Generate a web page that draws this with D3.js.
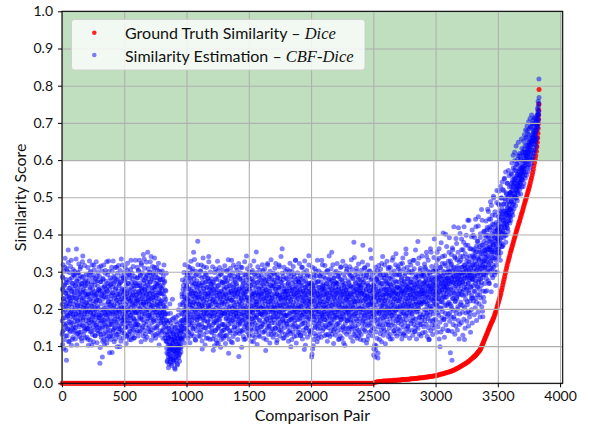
<!DOCTYPE html>
<html>
<head>
<meta charset="utf-8">
<script src="https://cdn.jsdelivr.net/npm/d3@7"></script>
<style>
  html, body { margin: 0; padding: 0; background: #ffffff; }
  svg { display: block; }
</style>
</head>
<body>
<svg id="chart" width="589" height="426"></svg>
<script>
// ---- axis ticks ----
const xTicks = [0, 500, 1000, 1500, 2000, 2500, 3000, 3500, 4000];
const yTicks = [0.0, 0.1, 0.2, 0.3, 0.4, 0.5, 0.6, 0.7, 0.8, 0.9, 1.0];

// ---- shaded high-similarity band ----
const highBand = [0.6, 1.0];

// ---- ground truth Dice similarity, one value every 10 pairs (0 .. 3290) ----
const gtScores = [
  0,0,0,0,0,0,0,0,0,0,0,0,0,0,0,0,0,0,0,0,0,0,0,0,0,0,0,0,0,0,0,0,0,0,0,0,0,0,0,0,0,0,0,0,0,0,0,0,0,0,
  0,0,0,0,0,0,0,0,0,0,0,0,0,0,0,0,0,0,0,0,0,0,0,0,0,0,0,0,0,0,0,0,0,0,0,0,0,0,0,0,0,0,0,0,0,0,0,0,0,0,
  0,0,0,0,0,0,0,0,0,0,0,0,0,0,0,0,0,0,0,0,0,0,0,0,0,0,0,0,0,0,0,0,0,0,0,0,0,0,0,0,0,0,0,0,0,0,0,0,0,0,
  0,0,0,0,0,0,0,0,0,0,0,0,0,0,0,0,0,0,0,0,0,0,0,0,0,0,0,0,0,0,0,0,0,0,0,0,0,0,0,0,0,0,0,0,0,0,0,0,0,0,
  0,0,0,0,0,0,0,0,0,0,0,0,0,0,0,0,0,0,0,0,0,0,0,0,0,0,0,0,0,0,0,0,0,0,0,0,0,0,0,0,0,0,0,0,0,0,0,0,0,0,
  0.000,0.002,0.003,0.004,0.004,0.005,0.005,0.005,0.006,0.006,
  0.006,0.006,0.007,0.007,0.007,0.007,0.008,0.008,0.008,0.008,
  0.009,0.009,0.009,0.010,0.010,0.010,0.010,0.011,0.011,0.011,
  0.012,0.012,0.012,0.013,0.013,0.013,0.014,0.014,0.015,0.015,
  0.015,0.016,0.016,0.017,0.017,0.018,0.018,0.019,0.019,0.020,
  0.020,0.021,0.022,0.023,0.024,0.025,0.026,0.027,0.028,0.029,
  0.030,0.031,0.032,0.033,0.035,0.036,0.038,0.040,0.041,0.043,
  0.045,0.047,0.049,0.051,0.053,0.055,0.058,0.060,0.063,0.066
];
// steep part, one value every 5 pairs (3300 .. 3795)
const gtSteepScores = [
  0.069,0.0705,0.072,0.0735,0.075,0.077,0.079,0.081,0.083,0.085,
  0.087,0.089,0.092,0.095,0.099,0.103,0.107,0.111,0.115,0.119,
  0.123,0.127,0.131,0.135,0.140,0.144,0.148,0.152,0.156,0.160,
  0.164,0.167,0.171,0.175,0.179,0.184,0.189,0.194,0.200,0.206,
  0.212,0.218,0.224,0.230,0.236,0.243,0.250,0.257,0.265,0.272,
  0.280,0.287,0.295,0.302,0.310,0.317,0.324,0.330,0.337,0.343,
  0.350,0.356,0.362,0.368,0.374,0.380,0.386,0.392,0.398,0.404,
  0.410,0.415,0.421,0.426,0.432,0.437,0.443,0.449,0.455,0.460,
  0.466,0.472,0.478,0.484,0.490,0.495,0.501,0.507,0.513,0.519,
  0.525,0.531,0.538,0.545,0.552,0.559,0.567,0.575,0.584,0.593
];
// last pairs, listed individually
const gtTailPairs  = [3800, 3805, 3810, 3814, 3817, 3820, 3822, 3824, 3826, 3827, 3828, 3829, 3830, 3831];
const gtTailScores = [0.602, 0.612, 0.624, 0.636, 0.648, 0.660, 0.672, 0.685, 0.698, 0.710, 0.722, 0.735, 0.750, 0.790];

// ---- CBF-Dice estimates (in thousandths), one row per 100 pairs ----
// even-numbered pairs: 100k, 100k+2, ... 100k+98
const estEvenRows = [
  "212 168 254 139 283 191 227 094 203 262 158 219 312 176 243 128 271 208 062 187 249 301 147 224 181 358 198 236 113 231 165 279 214 257 142 189 221 331 163 248 205 118 268 184 229 292 151 213 239 196",
  "243 177 288 202 149 263 218 186 361 229 132 274 207 171 252 297 193 224 138 281 199 241 158 308 183 232 259 121 214 188 268 221 327 169 244 203 154 287 226 178 211 262 141 249 194 276 217 168 238 204",
  "186 233 147 272 209 118 241 176 292 198 163 217 253 139 301 192 228 171 208 264 103 243 197 182 284 151 222 187 318 213 168 247 128 234 201 273 179 239 157 224 193 287 208 142 261 203 231 169 252 184",
  "176 221 054 248 162 197 273 131 214 188 239 152 071 226 179 282 168 233 117 202 258 191 161 244 303 139 211 184 253 197 108 231 172 268 193 219 149 329 204 241 158 082 213 179 264 128 227 193 277 167",
  "218 083 191 259 138 244 202 169 288 211 148 229 182 272 119 253 197 161 223 312 188 239 131 214 281 172 232 198 147 262 193 218 098 241 177 273 209 158 334 203 228 142 251 186 219 171 284 201 238 179",
  "203 248 167 231 279 152 212 187 263 219 128 242 178 303 198 163 268 227 191 209 252 139 291 221 182 238 204 331 169 232 259 193 148 217 282 211 243 176 122 254 198 229 271 168 213 189 236 158 221 262",
  "238 191 283 219 158 262 208 304 247 178 233 269 141 242 199 291 218 173 257 323 212 249 188 228 279 152 241 217 268 202 334 181 253 227 118 261 209 289 238 193 219 272 167 248 352 231 198 281 222 183",
  "259 212 241 298 177 228 273 203 341 219 162 248 282 189 231 208 293 239 171 258 223 312 197 252 131 243 268 191 229 284 211 153 262 218 303 182 239 201 271 227 103 251 213 279 188 242 168 221 257 198",
  "221 172 253 188 279 142 209 241 161 198 271 178 232 121 219 187 152 248 203 169 113 082 131 061 187 149 102 071 124 052 093 138 079 213 058 104 128 067 162 091 118 048 101 172 139 108 069 088 133 057",
  "078 122 041 098 151 069 113 087 178 062 128 083 104 049 142 091 119 073 198 101 081 132 059 109 163 093 121 138 097 154 188 141 232 169 118 211 253 158 198 129 241 179 108 221 272 148 192 228 171 209",
  "198 261 168 229 291 139 221 188 273 238 158 211 311 179 252 219 128 283 203 241 169 228 302 191 262 209 148 243 217 281 177 249 333 198 231 118 268 212 239 187 293 221 171 258 199 382 229 178 247 213",
  "231 178 269 203 138 252 218 301 188 241 159 209 283 092 228 199 262 171 222 313 187 248 211 149 271 232 181 239 198 292 121 224 258 189 233 168 281 207 243 341 202 157 253 219 182 268 209 227 191 259",
  "187 241 148 213 273 119 222 179 251 198 163 232 101 262 188 219 142 281 203 168 243 211 108 252 177 229 302 151 209 193 263 128 218 242 171 201 293 097 231 182 248 139 212 188 271 158 223 198 121 238",
  "213 158 252 187 283 219 128 241 201 176 272 229 148 212 304 189 253 168 221 081 262 198 239 141 228 179 291 208 161 248 223 331 192 243 109 202 268 231 171 218 259 183 209 152 244 279 197 233 188 251",
  "219 181 262 198 148 243 291 212 168 231 072 253 187 219 282 159 238 201 312 177 229 213 139 261 221 189 273 242 171 198 252 118 231 209 293 182 241 158 224 263 197 342 188 229 151 248 213 179 268 221",
  "201 252 178 229 281 159 219 193 263 208 142 241 298 199 172 231 272 188 223 112 249 211 181 293 238 161 228 203 259 219 353 178 242 212 148 271 198 233 191 254 129 221 283 209 168 243 202 261 187 232",
  "241 188 272 219 161 253 208 303 179 228 199 262 138 241 221 279 191 213 088 251 229 171 268 202 243 322 182 219 258 209 152 238 193 282 231 198 248 169 221 291 212 131 262 238 178 229 203 271 219 189",
  "208 262 171 241 293 198 232 148 253 219 188 272 109 241 211 283 179 229 201 258 161 252 218 313 192 238 209 141 272 228 181 223 261 202 362 239 169 232 212 279 188 248 122 218 263 199 241 181 229 213",
  "229 182 251 208 281 158 238 201 268 219 139 262 188 231 302 212 171 249 221 098 241 203 279 178 232 258 209 152 253 218 191 293 239 198 169 231 272 211 331 181 243 222 128 259 201 248 193 228 282 209",
  "203 238 172 271 219 188 252 129 231 208 279 182 241 198 263 312 221 161 248 212 191 229 273 091 242 199 218 179 258 232 148 251 209 288 192 239 221 168 268 201 228 343 213 178 249 219 138 262 198 241",
  "219 271 188 242 078 211 263 181 229 101 252 198 283 171 221 238 149 262 209 191 301 232 179 248 218 158 272 201 239 121 212 258 193 231 289 178 249 222 168 241 203 273 212 331 188 228 261 182 219 253",
  "238 192 261 209 171 248 219 282 201 232 152 268 213 241 178 303 222 189 259 131 229 208 251 181 279 218 243 161 199 272 231 188 253 352 209 173 241 219 262 198 141 228 283 191 249 212 178 239 221 271",
  "209 251 182 231 268 198 242 161 221 289 193 258 211 119 243 219 281 178 229 203 252 313 171 239 212 188 272 221 149 248 201 232 262 179 219 241 102 268 208 251 191 229 302 199 243 168 221 259 209 232",
  "232 198 271 219 181 252 208 291 239 171 262 218 332 191 241 209 152 283 228 201 259 221 379 182 248 212 239 139 271 219 188 252 229 301 199 243 168 261 221 279 208 128 249 231 191 268 219 242 201 262",
  "221 259 191 242 279 208 231 168 371 249 198 222 272 181 239 309 211 158 262 228 189 251 219 291 201 238 118 268 209 232 179 261 221 302 193 249 211 241 359 198 229 171 258 219 281 188 243 212 252 231",
  "209 252 092 231 268 179 241 071 202 259 219 101 281 188 243 211 303 172 229 081 248 221 271 191 239 198 262 159 231 292 209 251 181 222 322 201 239 268 188 229 213 148 259 221 283 198 241 179 252 212",
  "229 272 198 251 178 241 289 209 262 221 158 243 312 199 231 268 188 252 119 219 281 238 209 259 182 231 331 201 249 219 271 191 242 141 262 228 208 293 241 198 253 348 219 181 272 231 258 201 239 222",
  "241 198 272 221 291 178 252 228 302 209 261 168 243 279 218 249 191 323 231 258 209 131 272 239 201 249 289 221 181 262 228 361 209 251 238 188 281 219 259 152 243 268 212 231 298 199 252 221 271 238",
  "252 209 281 229 188 262 301 218 241 169 271 228 249 198 331 238 212 283 139 259 231 248 219 292 191 242 268 209 261 381 229 201 251 279 218 239 178 272 231 309 212 258 241 158 249 289 221 268 232 241",
  "259 218 291 241 198 272 251 312 229 179 262 281 219 248 341 209 269 238 188 258 302 231 249 118 279 221 261 239 292 208 271 252 352 199 258 229 283 241 168 272 248 301 221 262 239 388 228 279 251 212",
  "271 228 302 249 211 283 258 331 239 189 292 261 228 272 362 248 219 281 098 259 311 238 269 201 289 251 279 229 341 262 218 301 271 242 171 279 259 322 231 268 252 401 241 288 259 209 282 248 299 268",
  "252 308 279 218 352 268 301 189 259 329 241 291 272 208 321 281 062 249 302 359 228 271 288 178 312 259 239 341 279 221 298 268 389 248 291 231 332 272 199 281 309 258 418 241 288 269 158 301 249 279",
  "298 262 331 279 238 359 288 312 209 271 341 298 251 379 282 319 118 291 268 348 309 239 302 398 258 329 281 219 312 289 371 268 321 249 438 301 279 342 188 291 309 258 362 298 229 331 281 412 289 318",
  "319 279 358 302 248 341 309 392 288 351 268 329 421 301 218 369 321 289 339 258 381 312 448 279 331 358 298 239 352 319 402 291 339 308 271 372 328 438 302 361 179 318 349 292 381 329 409 311 358 339",
  "348 309 392 338 281 368 329 419 358 302 398 351 462 318 381 269 362 412 339 388 309 441 368 329 478 358 291 402 349 428 379 318 372 498 352 409 338 391 299 381 452 362 418 331 401 368 518 349 388 412",
  "381 419 352 448 401 362 479 412 388 441 331 458 421 378 498 428 402 469 368 452 521 409 438 391 481 429 549 418 462 398 492 441 379 512 458 428 482 419 538 452 471 408 501 459 438 558 481 449 509 468",
  "468 512 438 529 491 458 561 502 479 541 452 518 579 488 532 469 551 509 598 501 539 478 571 519 552 498 589 528 491 561 518 612 539 508 571 529 552 618 521 559 538 581 509 601 548 569 528 631 558 579",
  "548 591 529 612 568 538 629 579 559 621 551 601 661 568 612 559 639 588 679 581 621 569 648 598 631 589 668 609 578 642 601 688 619 589 652 608 628 698 601 641 619 661 608 679 628 652 618 712 641 659",
  "628 672 649 701 638 681 719 659 698 738 689 721 758 709 731 818"
];
// odd-numbered pairs: 100k+1, 100k+3, ... 100k+99
const estOddRows = [
  "132 287 104 251 319 176 228 143 301 117 265 198 336 154 242 089 279 213 161 308 127 234 183 271 146 325 209 112 256 173 298 138 221 187 314 159 247 102 283 194 231 148 269 123 306 178 254 137 292 166",
  "301 142 263 119 228 187 334 158 276 103 249 211 168 297 134 238 182 321 152 264 126 209 289 171 313 138 246 193 268 114 285 157 229 342 176 251 131 203 274 148 317 187 239 122 262 198 145 293 216 159",
  "124 268 193 311 147 239 102 284 171 226 329 153 258 116 297 188 241 139 272 164 318 207 131 253 178 291 112 236 162 305 143 264 197 128 281 219 156 327 184 243 109 276 151 223 298 134 251 176 312 149",
  "287 139 248 096 273 182 315 124 236 167 302 148 257 113 279 198 133 318 171 244 104 263 157 296 186 231 128 274 152 327 119 248 183 292 137 261 169 219 301 126 252 188 141 283 208 118 267 159 236 312",
  "158 301 127 242 186 329 143 268 207 112 284 173 236 149 311 192 257 131 278 164 223 098 296 179 248 138 317 201 153 267 124 239 188 303 146 271 113 226 289 169 254 136 318 197 161 283 122 245 176 298",
  "276 134 253 188 311 149 232 107 289 168 241 126 323 197 152 268 131 294 176 227 118 283 161 249 139 306 182 221 117 271 154 296 128 237 189 314 143 262 173 208 122 287 158 246 331 137 269 191 153 226",
  "167 312 141 283 223 127 302 188 246 156 331 201 262 138 289 176 227 112 318 193 254 149 297 171 238 128 346 213 163 277 142 309 186 251 132 284 218 158 326 197 241 124 292 173 263 147 308 182 229 139",
  "298 152 271 186 327 138 243 209 116 288 174 256 143 314 197 231 128 302 166 278 149 337 211 183 259 121 293 169 236 148 311 192 267 134 284 207 158 323 176 244 129 301 188 262 141 279 214 163 297 182",
  "241 138 302 176 263 121 287 193 149 318 208 162 274 131 251 187 226 113 296 168 094 137 058 112 163 079 121 042 148 087 103 169 066 124 091 188 072 141 053 116 097 152 081 226 109 063 134 089 176 118",
  "061 124 093 147 038 112 081 166 097 131 073 158 104 052 139 088 121 183 069 114 096 149 078 127 211 105 142 084 168 119 153 241 122 278 186 217 139 263 171 298 148 231 196 319 163 252 128 284 207 176",
  "263 148 297 183 226 121 314 192 254 137 283 168 241 109 296 213 157 328 178 249 133 271 201 162 308 146 234 187 352 127 268 219 153 289 174 243 116 301 198 259 141 276 163 232 187 319 152 264 128 211",
  "157 289 174 241 126 302 198 263 143 318 182 229 114 271 208 152 337 176 254 131 286 193 168 243 103 296 217 149 273 186 311 138 258 197 164 283 122 241 209 327 153 274 181 236 118 299 172 248 139 266",
  "281 136 254 197 313 158 226 089 271 182 243 128 298 167 218 141 307 193 252 116 279 163 236 184 328 147 263 107 288 172 241 154 311 196 228 131 274 182 246 118 293 159 217 271 142 304 188 233 127 259",
  "143 271 188 316 152 239 107 284 173 258 129 301 196 227 148 276 183 332 158 243 119 289 204 171 263 136 309 187 247 112 281 168 223 142 297 193 256 126 318 177 238 151 287 206 164 273 134 249 188 312",
  "268 137 303 179 241 118 286 196 159 322 173 252 134 279 208 163 297 141 248 187 226 097 311 168 257 143 283 201 126 269 184 238 153 327 172 246 119 291 203 162 278 139 254 193 308 148 231 176 286 131",
  "164 298 127 253 189 317 146 262 208 113 281 174 236 158 303 192 241 129 274 167 329 198 148 263 123 286 211 176 244 138 297 183 219 104 271 156 313 199 238 142 289 171 253 126 304 187 228 151 278 203",
  "292 153 241 184 319 137 266 201 158 283 121 248 193 307 166 229 142 276 188 251 117 294 174 236 149 318 203 162 272 131 286 219 154 247 108 301 176 263 141 332 192 227 163 281 146 258 198 124 296 179",
  "136 278 204 162 309 148 253 189 322 131 267 178 241 116 293 207 154 284 172 236 143 318 193 258 127 281 164 229 188 341 152 271 209 138 296 173 246 121 287 198 163 312 149 254 183 226 132 301 168 247",
  "283 161 247 129 306 182 238 152 271 113 294 203 168 257 141 323 189 226 134 288 172 249 118 301 193 157 269 138 314 176 241 203 126 286 161 253 192 331 147 262 108 279 184 233 153 297 171 244 137 272",
  "151 273 198 322 137 251 176 289 128 263 207 158 311 183 232 119 284 169 246 143 298 187 221 134 329 162 257 102 276 194 238 149 303 178 263 124 291 207 156 247 189 318 141 268 173 226 132 287 196 253",
  "268 143 071 238 186 312 092 257 163 221 118 293 179 246 134 308 198 153 271 127 289 206 168 243 112 331 187 229 146 274 161 302 193 132 258 217 149 287 171 236 124 296 182 251 158 319 141 264 203 178",
  "147 286 192 253 128 317 171 239 156 298 204 131 269 186 243 113 302 167 228 149 281 194 342 158 261 126 293 177 238 141 308 209 163 276 132 251 188 319 152 267 107 284 171 232 146 297 183 258 129 271",
  "301 158 243 176 322 139 268 193 151 287 118 254 207 163 296 181 232 127 311 172 246 143 278 198 121 264 186 328 153 239 109 293 174 257 138 283 203 161 316 147 251 188 226 132 307 169 241 192 148 276",
  "172 296 138 263 184 313 151 242 197 124 288 163 231 146 306 179 258 113 281 203 166 247 132 338 186 219 154 292 127 268 196 173 309 148 253 121 287 181 236 159 321 142 264 201 137 279 172 248 118 293",
  "257 131 304 182 243 161 326 148 271 199 116 289 173 238 143 311 184 226 139 283 167 252 108 297 191 234 154 318 176 263 127 286 212 158 249 137 302 187 228 162 278 141 336 179 217 151 293 128 264 196",
  "183 076 262 147 298 103 231 169 312 089 253 138 279 193 121 286 161 238 068 274 152 317 186 224 118 296 171 249 133 307 196 143 268 112 283 209 157 341 176 237 129 291 168 252 141 318 189 223 106 276",
  "292 158 241 186 328 137 269 203 164 307 126 253 191 282 148 236 173 311 131 264 198 156 297 183 244 119 286 211 162 338 174 249 141 302 188 227 153 276 134 319 196 243 168 291 127 258 207 171 313 146",
  "163 308 178 257 142 293 206 231 132 321 187 246 158 284 119 268 201 172 337 151 242 189 308 136 274 213 163 296 128 251 184 348 171 263 146 312 198 227 154 281 207 139 302 181 256 121 327 193 238 168",
  "318 161 272 208 143 296 187 249 129 331 176 257 201 158 308 139 264 227 172 358 151 286 213 119 273 194 241 163 322 148 289 201 176 337 132 261 218 158 303 187 246 127 293 214 169 342 178 251 136 287",
  "184 297 152 268 219 321 168 243 137 308 197 276 159 352 188 231 126 289 213 174 331 149 262 201 118 298 183 246 168 362 141 279 226 193 314 157 254 208 131 301 187 266 148 338 217 172 286 239 159 307",
  "263 171 318 198 241 137 352 208 279 152 301 227 183 336 119 287 246 164 311 203 268 138 378 219 251 176 322 193 289 146 404 231 172 297 258 124 343 209 276 188 317 157 264 231 368 179 298 142 283 214",
  "186 328 141 274 238 391 167 299 213 082 318 252 178 346 201 283 139 364 228 271 158 309 196 421 243 173 288 132 337 219 262 154 301 188 376 227 279 143 314 206 352 169 291 238 119 327 186 268 403 211",
  "341 218 296 163 388 247 312 191 273 129 359 236 298 172 421 258 203 317 148 283 226 371 189 304 252 167 338 211 289 438 193 269 154 326 243 297 178 362 221 284 137 311 259 198 394 236 278 162 343 229",
  "263 398 221 338 289 184 362 247 319 203 441 276 229 353 169 307 261 382 238 296 191 423 272 334 214 368 252 309 178 392 281 229 348 263 467 206 317 284 194 372 248 329 231 408 293 219 356 268 313 247",
  "398 291 436 327 378 249 412 362 298 468 341 276 393 319 442 268 367 421 302 359 488 329 381 246 418 353 307 452 338 284 396 372 503 312 427 358 291 391 461 336 408 263 374 432 318 486 351 299 413 387",
  "428 361 482 399 342 517 438 376 463 408 529 351 447 392 498 421 368 541 456 409 481 372 518 438 463 402 551 447 419 496 431 568 452 398 509 462 427 538 471 416 502 458 572 437 489 451 528 468 431 513",
  "512 448 563 489 537 471 592 518 462 548 501 613 528 481 572 539 503 621 548 512 581 529 498 638 557 521 589 543 512 602 561 532 648 571 529 593 558 541 612 576 538 603 562 551 657 581 548 619 573 562",
  "583 622 569 651 598 578 668 612 593 639 586 681 621 602 659 611 597 692 628 609 671 633 618 703 641 622 684 648 631 712 658 637 689 652 643 721 661 649 697 668 652 708 673 661 698 679 668 714 684 672",
  "651 688 662 703 678 694 712 689 708 723 702 731 744 721 752 768"
];

// ---- text ----
const xAxisTitle = "Comparison Pair";
const yAxisTitle = "Similarity Score";
const legendItems = [
  { lead: "Ground Truth Similarity \u2013 ", measure: "Dice", color: "#ff0000", opacity: 0.85 },
  { lead: "Similarity Estimation \u2013 ", measure: "CBF-Dice", color: "#0000ff", opacity: 0.5 }
];

// ---- layout ----
const frame = { left: 62, right: 562.7, top: 11.3, bottom: 383.3 };
const sansFont = "Lato, 'DejaVu Sans', sans-serif";
const mathFont = "'Liberation Serif', 'DejaVu Serif', serif";

const svg = d3.select("#chart");

const x = d3.scaleLinear().domain([0, 4021]).range([frame.left, frame.right]);
const y = d3.scaleLinear().domain([0, 1]).range([frame.bottom, frame.top]);

// shaded band
svg.append("rect")
  .attr("x", frame.left)
  .attr("y", y(highBand[1]))
  .attr("width", frame.right - frame.left)
  .attr("height", y(highBand[0]) - y(highBand[1]))
  .attr("fill", "#008000")
  .attr("fill-opacity", 0.25);

// ground truth points
const gtPoints = gtScores.map((s, i) => ({ pair: i * 10, score: s }))
  .concat(gtSteepScores.map((s, i) => ({ pair: 3300 + i * 5, score: s })))
  .concat(gtTailPairs.map((p, i) => ({ pair: p, score: gtTailScores[i] })));

svg.append("g")
  .selectAll("circle")
  .data(gtPoints)
  .join("circle")
  .attr("cx", d => x(d.pair))
  .attr("cy", d => y(d.score))
  .attr("r", 2.5)
  .attr("fill", "#ff0000")
  .attr("fill-opacity", 0.85);

// estimated points
const parseRows = (rows, offset) => rows.flatMap((row, k) =>
  row.trim().split(/\s+/).map((v, j) => ({ pair: k * 100 + 2 * j + offset, score: +v / 1000 })));
const estPoints = parseRows(estEvenRows, 0).concat(parseRows(estOddRows, 1))
  .sort((a, b) => a.pair - b.pair);

svg.append("g")
  .selectAll("circle")
  .data(estPoints)
  .join("circle")
  .attr("cx", d => x(d.pair))
  .attr("cy", d => y(d.score))
  .attr("r", 2.5)
  .attr("fill", "#0000ff")
  .attr("fill-opacity", 0.5);

// grid
const gridColor = "#b0b0b0";
const gx = svg.append("g")
  .attr("transform", `translate(0,${frame.bottom})`)
  .call(d3.axisBottom(x).tickValues(xTicks).tickSize(-(frame.bottom - frame.top)).tickFormat(""));
gx.select(".domain").remove();
gx.selectAll("line").attr("stroke", gridColor).attr("stroke-width", 1.1);

const gy = svg.append("g")
  .attr("transform", `translate(${frame.left},0)`)
  .call(d3.axisLeft(y).tickValues(yTicks).tickSize(-(frame.right - frame.left)).tickFormat(""));
gy.select(".domain").remove();
gy.selectAll("line").attr("stroke", gridColor).attr("stroke-width", 1.1);

// frame
svg.append("rect")
  .attr("x", frame.left)
  .attr("y", frame.top)
  .attr("width", frame.right - frame.left)
  .attr("height", frame.bottom - frame.top)
  .attr("fill", "none")
  .attr("stroke", "#000")
  .attr("stroke-width", 1.1);

// axes
const xAxis = svg.append("g")
  .attr("transform", `translate(0,${frame.bottom})`)
  .call(d3.axisBottom(x).tickValues(xTicks).tickSize(4).tickPadding(4).tickFormat(d3.format("d")));
xAxis.select(".domain").remove();
xAxis.selectAll("line").attr("stroke", "#000").attr("stroke-width", 1);
xAxis.selectAll("text").attr("font-family", sansFont).attr("font-size", 14).attr("fill", "#111");

const yAxis = svg.append("g")
  .attr("transform", `translate(${frame.left},0)`)
  .call(d3.axisLeft(y).tickValues(yTicks).tickSize(4).tickPadding(5).tickFormat(d3.format(".1f")));
yAxis.select(".domain").remove();
yAxis.selectAll("line").attr("stroke", "#000").attr("stroke-width", 1);
yAxis.selectAll("text").attr("font-family", sansFont).attr("font-size", 14).attr("fill", "#111");

// axis titles
svg.append("text")
  .attr("x", (frame.left + frame.right) / 2)
  .attr("y", 421)
  .attr("text-anchor", "middle")
  .attr("font-family", sansFont)
  .attr("font-size", 16)
  .attr("fill", "#111")
  .text(xAxisTitle);

svg.append("text")
  .attr("transform", `translate(25.5,${(frame.top + frame.bottom) / 2}) rotate(-90)`)
  .attr("text-anchor", "middle")
  .attr("font-family", sansFont)
  .attr("font-size", 16)
  .attr("fill", "#111")
  .text(yAxisTitle);

// legend
const legend = svg.append("g");
legend.append("rect")
  .attr("x", 71.5).attr("y", 19.5)
  .attr("width", 293.5).attr("height", 50.5)
  .attr("rx", 3)
  .attr("fill", "#ffffff").attr("fill-opacity", 0.8)
  .attr("stroke", "#cccccc").attr("stroke-opacity", 0.8);

legendItems.forEach((item, i) => {
  const rowY = 32.7 + i * 22.3;
  legend.append("circle")
    .attr("cx", 94.3).attr("cy", rowY)
    .attr("r", 2.3)
    .attr("fill", item.color).attr("fill-opacity", item.opacity);
  const t = legend.append("text")
    .attr("x", 125).attr("y", rowY + 6.5)
    .attr("font-family", sansFont)
    .attr("font-size", 16)
    .attr("fill", "#111");
  t.append("tspan").text(item.lead);
  t.append("tspan")
    .attr("font-family", mathFont)
    .attr("font-style", "italic")
    .attr("font-size", 16.5)
    .text(item.measure);
});
</script>
</body>
</html>
